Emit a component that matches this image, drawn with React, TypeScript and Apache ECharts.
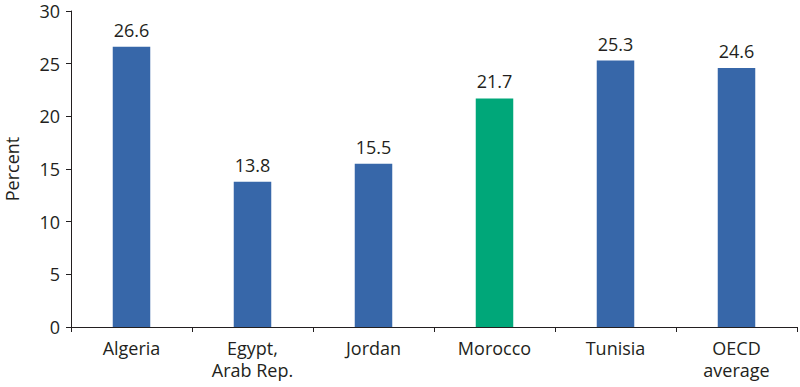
import React, { useEffect, useRef } from "react";
import * as echarts from "echarts";

const categories = ["Algeria", "Egypt,\nArab Rep.", "Jordan", "Morocco", "Tunisia", "OECD\naverage"];
const values = [26.6, 13.8, 15.5, 21.7, 25.3, 24.6];
const highlight = "Morocco";
const yTicks = { min: 0, max: 30, interval: 5 };

const BLUE = "#3767a9";
const GREEN = "#00a779";
const TEXT = "#231f20";
const FONT = "Open Sans";
const FS = 18;

export default function App() {
  const ref = useRef<HTMLDivElement>(null);
  useEffect(() => {
    if (!ref.current) return;
    const chart = echarts.init(ref.current, undefined, { renderer: "svg" });
    chart.setOption({
      animation: false,
      textStyle: { fontFamily: FONT, fontSize: FS, color: TEXT },
      grid: { left: 71, right: 3, top: 11, bottom: 60, containLabel: false, outerBoundsMode: "none" },
      xAxis: {
        type: "category",
        data: categories,
        axisLine: { lineStyle: { color: TEXT, width: 1 } },
        axisTick: { show: true, alignWithLabel: false, length: 5, lineStyle: { color: TEXT } },
        axisLabel: { color: TEXT, fontSize: FS, fontFamily: FONT, margin: 10, lineHeight: 22 },
      },
      yAxis: {
        type: "value",
        min: yTicks.min,
        max: yTicks.max,
        interval: yTicks.interval,
        name: "Percent",
        nameLocation: "middle",
        nameGap: 50,
        nameTextStyle: { color: TEXT, fontSize: FS, fontFamily: FONT },
        axisLine: { show: true, lineStyle: { color: TEXT, width: 1 } },
        axisTick: { show: true, length: 5, lineStyle: { color: TEXT } },
        axisLabel: { color: TEXT, fontSize: FS, fontFamily: FONT, margin: 11 },
        splitLine: { show: false },
      },
      series: [
        {
          type: "bar",
          barWidth: "31%",
          data: values.map((v, i) => ({
            value: v,
            itemStyle: { color: categories[i] === highlight ? GREEN : BLUE },
          })),
          label: {
            show: true,
            position: "top",
            distance: 8,
            color: TEXT,
            fontSize: FS,
            fontFamily: FONT,
            formatter: (p: any) => p.value.toFixed(1),
          },
        },
      ],
    });
    return () => chart.dispose();
  }, []);
  return <div ref={ref} style={{ width: 800, height: 387, position: "absolute", left: 0, top: 0 }} />;
}
